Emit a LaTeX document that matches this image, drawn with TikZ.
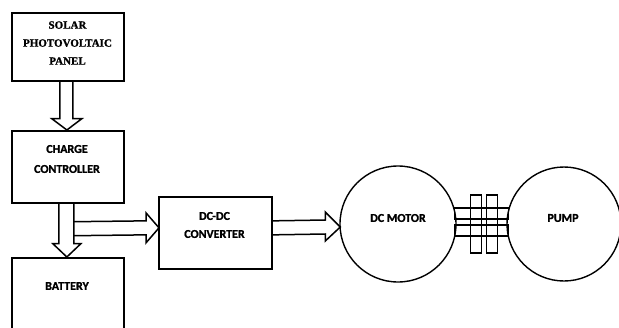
\documentclass[tikz,border=0pt]{standalone}
\usepackage{fontspec}
\setmainfont{Carlito}[BoldFeatures={FakeBold=1.3}]
\newfontfamily\serifb{Liberation Serif}[BoldFeatures={FakeBold=1.3}]
\usetikzlibrary{calc}
\begin{document}
\begin{tikzpicture}[x=1pt,y=-1pt,
  blk/.style={draw, line width=1.7pt, inner sep=0pt, minimum width=112pt, anchor=north west},
  lbl/.style={font=\fontsize{12}{19}\selectfont\bfseries, inner sep=0pt, align=center},
  barrow/.style={draw, line width=1.5pt, line join=miter},
  wheel/.style={draw, line width=1.4pt, circle, inner sep=0pt, minimum size=116pt},
  cpl/.style={draw, line width=1.3pt}]
\useasboundingbox (0,0) rectangle (619,327);
\clip (0,0) rectangle (619,327);
% blocks
\node[blk, minimum height=68pt] (solar) at (11,12) {};
\node[blk, minimum height=72pt] (charge) at (11,130) {};
\node[blk, minimum height=90pt] (battery) at (11,257) {};
\node[blk, minimum width=113pt, minimum height=72pt] (conv) at (158,196) {};
\node[wheel] (motor) at (398,224) {};
\node[wheel, minimum size=114pt] (pump) at (564,224) {};
% labels
\node[lbl, font=\serifb\fontsize{11}{18}\selectfont\bfseries] (solart) at (67.5,43) {SOLAR\\PHOTOVOLTAIC\\PANEL};
\node[lbl, font=\fontsize{12}{20}\selectfont\bfseries] (charget) at (67,159) {CHARGE\\CONTROLLER};
\node[lbl] (batt) at (67,286) {BATTERY};
\node[lbl, font=\fontsize{12}{18}\selectfont\bfseries] (convt) at (214.5,225) {DC-DC\\CONVERTER};
\node[lbl] (motort) at (398,218) {DC MOTOR};
\node[lbl] (pumpt) at (563,218) {PUMP};
% block arrows
\draw[barrow] ($(solar.south)+(-8,0)$) -- ++(0,37) -- ++(-8,0) -- ($(charge.north)+(-1,0)$)
  -- ($(solar.south)+(14,37)$) -- ++(-9,0) -- ($(solar.south)+(5,0)$);
\draw[barrow] ($(charge.south)+(-9,0)$) -- ++(0,40) -- ++(-6,0) -- ($(battery.north)+(-1,0)$)
  -- ($(charge.south)+(13,40)$) -- ++(-7,0) -- ($(charge.south)+(6,0)$);
\draw[barrow] ($(charge.south)+(6,18)$) -- ($(conv.west)+(-12,-12)$) -- ++(0,-8)
  -- ($(conv.west)+(1,-5)$) -- ($(conv.west)+(-12,10)$) -- ++(0,-8) -- ($(charge.south)+(6,32)$);
\draw[barrow] ($(conv.east)+(0,-12)$) -- ($(motor.west)+(-14,-4)$) -- ++(0,-8)
  -- ($(motor.west)+(1,3)$) -- ($(motor.west)+(-14,17)$) -- ++(0,-7) -- ($(conv.east)+(0,2)$);
% coupling
\draw[cpl] ($(motor.east)+(-2,-16)$) rectangle ($(pump.west)+(2,-5)$);
\draw[cpl] ($(motor.east)+(-2,1)$) rectangle ($(pump.west)+(2,12)$);
\draw[cpl] ($(motor.east)+(14,-29)$) rectangle ($(motor.east)+(25,29)$);
\draw[cpl] ($(motor.east)+(30,-29)$) rectangle ($(motor.east)+(41,29)$);
\end{tikzpicture}
\end{document}
